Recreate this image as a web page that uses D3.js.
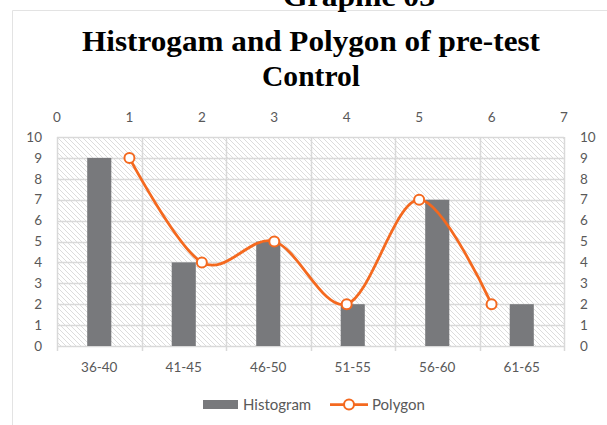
<!DOCTYPE html>
<html>
<head>
<meta charset="utf-8">
<title>Histrogam and Polygon</title>
<script src="https://cdn.jsdelivr.net/npm/d3@7/dist/d3.min.js"></script>
<style>
  body { margin: 0; background: #fff; }
  text { font-family: Lato, "Liberation Sans", sans-serif; }
  .title { font-family: "Liberation Serif", "DejaVu Serif", serif; font-weight: bold; fill: #000; }
  .tick-label { font-size: 13.5px; fill: #595959; }
  .legend-label { font-size: 15px; fill: #595959; }
</style>
</head>
<body>
<script>
// data
var categories = ["36-40", "41-45", "46-50", "51-55", "56-60", "61-65"];
var histogram = [9, 4, 5, 2, 7, 2];
var polygonX = [1, 2, 3, 4, 5, 6];
var polygonY = [9, 4, 5, 2, 7, 2];
var yTicks = [0, 1, 2, 3, 4, 5, 6, 7, 8, 9, 10];
var topTicks = [0, 1, 2, 3, 4, 5, 6, 7];

var W = 607, H = 425;
var plot = {left: 57, right: 564, top: 137, bottom: 346};
var orange = "#f4691f", barColor = "#78797c", grid = "#d9d9d9";

var svg = d3.select("body").append("svg")
  .attr("width", W).attr("height", H);

// hatch pattern for plot background
var defs = svg.append("defs");
var pat = defs.append("pattern")
  .attr("id", "hatch").attr("patternUnits", "userSpaceOnUse")
  .attr("width", 5).attr("height", 5);
pat.append("rect").attr("width", 5).attr("height", 5).attr("fill", "#fff");
pat.append("path").attr("d", "M-1,-1 L6,6 M-1,4 L1,6 M4,-1 L6,1")
  .attr("stroke", "#dcdcdc").attr("stroke-width", 1);

// chart frame (partly off-image)
svg.append("path").attr("d", "M12.5," + (H + 5) + " V10.5 H" + (W + 5))
  .attr("fill", "none").attr("stroke", "#e3e3e3");

// page heading, mostly above the visible area
svg.append("text").attr("class", "title")
  .attr("x", 359).attr("y", 6).attr("text-anchor", "middle")
  .attr("textLength", 152).attr("lengthAdjust", "spacingAndGlyphs")
  .style("font-size", "28px").text("Graphic 03");

// title
svg.append("text").attr("class", "title")
  .attr("x", 311).attr("y", 51).attr("text-anchor", "middle")
  .attr("textLength", 458).attr("lengthAdjust", "spacingAndGlyphs")
  .style("font-size", "29px").text("Histrogam and Polygon of pre-test");
svg.append("text").attr("class", "title")
  .attr("x", 311).attr("y", 86).attr("text-anchor", "middle")
  .attr("textLength", 98).attr("lengthAdjust", "spacingAndGlyphs")
  .style("font-size", "29px").text("Control");

// scales
var x = d3.scaleBand().domain(categories).range([plot.left, plot.right]);
var xTop = d3.scaleLinear().domain([0, 7]).range([plot.left, plot.right]);
var y = d3.scaleLinear().domain([0, 10]).range([plot.bottom, plot.top]);

// plot background
svg.append("rect")
  .attr("x", plot.left).attr("y", plot.top)
  .attr("width", plot.right - plot.left).attr("height", plot.bottom - plot.top)
  .attr("fill", "url(#hatch)");

// gridlines
svg.append("g").selectAll("line").data(yTicks).enter().append("line")
  .attr("x1", plot.left).attr("x2", plot.right)
  .attr("y1", function(d) { return Math.round(y(d)) + 0.5; })
  .attr("y2", function(d) { return Math.round(y(d)) + 0.5; })
  .attr("stroke", grid).attr("stroke-width", 1.5);
var bounds = categories.map(function(c) { return x(c); }).concat([plot.right]);
svg.append("g").selectAll("line").data(bounds).enter().append("line")
  .attr("x1", function(d) { return Math.round(d) + 0.5; })
  .attr("x2", function(d) { return Math.round(d) + 0.5; })
  .attr("y1", plot.top).attr("y2", plot.bottom + 5)
  .attr("stroke", grid).attr("stroke-width", 1.5);

// axes labels
svg.append("g").selectAll("text").data(yTicks).enter().append("text")
  .attr("class", "tick-label").attr("x", 42).attr("y", function(d) { return y(d); })
  .attr("dy", "0.35em").attr("text-anchor", "end").text(function(d) { return d; });
svg.append("g").selectAll("text").data(yTicks).enter().append("text")
  .attr("class", "tick-label").attr("x", 580).attr("y", function(d) { return y(d); })
  .attr("dy", "0.35em").attr("text-anchor", "start").text(function(d) { return d; });
svg.append("g").selectAll("text").data(topTicks).enter().append("text")
  .attr("class", "tick-label").attr("x", function(d) { return xTop(d); }).attr("y", 117)
  .attr("dy", "0.35em").attr("text-anchor", "middle").text(function(d) { return d; });
svg.append("g").selectAll("text").data(categories).enter().append("text")
  .attr("class", "tick-label").attr("x", function(d) { return x(d) + x.bandwidth() / 2; })
  .attr("y", 367).attr("dy", "0.35em").attr("text-anchor", "middle").text(function(d) { return d; });

// bars
var bw = x.bandwidth() * 0.285;
svg.append("g").selectAll("rect").data(histogram).enter().append("rect")
  .attr("x", function(d, i) { return x(categories[i]) + x.bandwidth() / 2 - bw / 2; })
  .attr("y", function(d) { return y(d); })
  .attr("width", bw)
  .attr("height", function(d) { return y(0) - y(d); })
  .attr("fill", barColor);

// polygon
var pts = polygonX.map(function(d, i) { return [xTop(d), y(polygonY[i])]; });
svg.append("path")
  .attr("d", d3.line().curve(d3.curveCatmullRom.alpha(0))(pts))
  .attr("fill", "none").attr("stroke", orange).attr("stroke-width", 2.75);
svg.append("g").selectAll("circle").data(pts).enter().append("circle")
  .attr("cx", function(d) { return d[0]; }).attr("cy", function(d) { return d[1]; })
  .attr("r", 5).attr("fill", "#fff").attr("stroke", orange).attr("stroke-width", 2);

// legend
var lg = svg.append("g");
lg.append("rect").attr("x", 203).attr("y", 400).attr("width", 35).attr("height", 9).attr("fill", barColor);
lg.append("text").attr("class", "legend-label").attr("x", 243).attr("y", 404.5).attr("dy", "0.35em").text("Histogram");
lg.append("line").attr("x1", 330).attr("x2", 368).attr("y1", 404.5).attr("y2", 404.5)
  .attr("stroke", orange).attr("stroke-width", 2.75);
lg.append("circle").attr("cx", 349).attr("cy", 404.5).attr("r", 5)
  .attr("fill", "#fff").attr("stroke", orange).attr("stroke-width", 2);
lg.append("text").attr("class", "legend-label").attr("x", 372).attr("y", 404.5).attr("dy", "0.35em").text("Polygon");
</script>
</body>
</html>
